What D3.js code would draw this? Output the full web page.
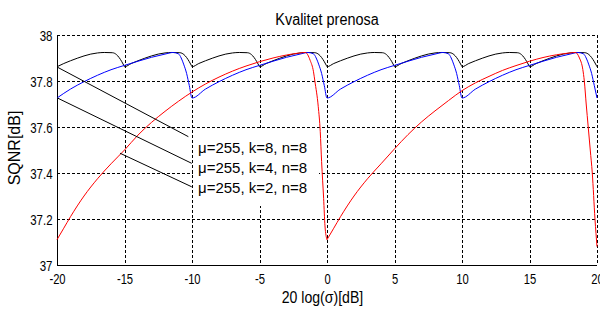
<!DOCTYPE html>
<html><head><meta charset="utf-8">
<script src="https://cdn.jsdelivr.net/npm/d3@7"></script>
<style>body{margin:0;background:#fff}svg{display:block}text{font-family:"Liberation Sans",Arial,sans-serif;fill:#000}</style>
</head><body><svg id="c" width="600" height="309"></svg>
<script>
const xTicks = [-20, -15, -10, -5, 0, 5, 10, 15, 20];
const xTickLabels = ["-20", "-15", "-10", "-5", "0", "5", "10", "15", "20"];
const yTicks = [37, 37.2, 37.4, 37.6, 37.8, 38];
const yTickLabels = ["37", "37.2", "37.4", "37.6", "37.8", "38"];
const titleText = "Kvalitet prenosa";
const xLabel = "20 log(σ)[dB]";
const yLabel = "SQNR[dB]";
const legendLabels = ["μ=255, k=8, n=8", "μ=255, k=4, n=8", "μ=255, k=2, n=8"];

// k=8 (black)
const seriesK8 = [
 [-20,37.862],[-19.5,37.876],[-19,37.888],[-18.5,37.899],[-18,37.909],[-17.5,37.917],[-17,37.922],[-16.5,37.924],[-15.9,37.923],[-15.6,37.915],[-15.4,37.902],[-15.2,37.884],[-15.05,37.868],
 [-15,37.862],[-14.5,37.876],[-14,37.888],[-13.5,37.899],[-13,37.909],[-12.5,37.917],[-12,37.922],[-11.5,37.924],[-10.9,37.923],[-10.6,37.915],[-10.4,37.902],[-10.2,37.884],[-10.05,37.868],
 [-10,37.862],[-9.5,37.876],[-9,37.888],[-8.5,37.899],[-8,37.909],[-7.5,37.917],[-7,37.922],[-6.5,37.924],[-5.9,37.923],[-5.6,37.915],[-5.4,37.902],[-5.2,37.884],[-5.05,37.868],
 [-5,37.862],[-4.5,37.876],[-4,37.888],[-3.5,37.899],[-3,37.909],[-2.5,37.917],[-2,37.922],[-1.5,37.924],[-0.9,37.923],[-0.6,37.915],[-0.4,37.902],[-0.2,37.884],[-0.05,37.868],
 [0,37.862],[0.5,37.876],[1,37.888],[1.5,37.899],[2,37.909],[2.5,37.917],[3,37.922],[3.5,37.924],[4.1,37.923],[4.4,37.915],[4.6,37.902],[4.8,37.884],[4.95,37.868],
 [5,37.862],[5.5,37.876],[6,37.888],[6.5,37.899],[7,37.909],[7.5,37.917],[8,37.922],[8.5,37.924],[9.1,37.923],[9.4,37.915],[9.6,37.902],[9.8,37.884],[9.95,37.868],
 [10,37.862],[10.5,37.876],[11,37.888],[11.5,37.899],[12,37.909],[12.5,37.917],[13,37.922],[13.5,37.924],[14.1,37.923],[14.4,37.915],[14.6,37.902],[14.8,37.884],[14.95,37.868],
 [15,37.862],[15.5,37.876],[16,37.888],[16.5,37.899],[17,37.909],[17.5,37.917],[18,37.922],[18.5,37.924],[19.1,37.923],[19.4,37.915],[19.6,37.902],[19.8,37.884],[19.95,37.868],[20,37.862]
];
// k=4 (blue)
const seriesK4 = [
 [-20,37.726],[-19,37.765],[-18,37.797],[-17,37.825],[-16,37.849],[-15,37.868],[-14,37.886],[-13,37.903],[-12,37.917],[-11.4,37.924],[-11,37.918],[-10.8,37.9],[-10.6,37.87],[-10.4,37.833],[-10.2,37.78],
 [-10,37.726],[-9,37.765],[-8,37.797],[-7,37.825],[-6,37.849],[-5,37.868],[-4,37.886],[-3,37.903],[-2,37.917],[-1.4,37.924],[-1,37.918],[-0.8,37.9],[-0.6,37.87],[-0.4,37.833],[-0.2,37.78],
 [0,37.726],[1,37.765],[2,37.797],[3,37.825],[4,37.849],[5,37.868],[6,37.886],[7,37.903],[8,37.917],[8.6,37.924],[9,37.918],[9.2,37.9],[9.4,37.87],[9.6,37.833],[9.8,37.78],
 [10,37.726],[11,37.765],[12,37.797],[13,37.825],[14,37.849],[15,37.868],[16,37.886],[17,37.903],[18,37.917],[18.6,37.924],[19,37.918],[19.2,37.9],[19.4,37.87],[19.6,37.833],[19.8,37.78],[20,37.726]
];
// k=2 (red)
const seriesK2a = [
 [-20,37.11],[-19.5,37.16],[-19,37.21],[-18,37.30],[-17,37.375],[-16,37.44],[-15,37.50],[-14,37.565],[-13,37.62],[-12,37.668],[-11,37.712],[-10,37.752],[-9,37.787],[-8,37.817],[-7,37.843],[-6,37.865],[-5,37.884],[-4,37.9],[-3,37.913],[-2,37.922],[-1.6,37.924],[-1.25,37.89],[-1.0,37.84],[-0.9,37.80],[-0.65,37.69],[-0.5,37.58],[-0.4,37.45],[-0.25,37.29],[-0.15,37.17],[0,37.11]
];
const seriesK2b = [
 [0,37.11],[0.5,37.16],[1,37.21],[2,37.30],[3,37.375],[4,37.44],[5,37.505],[6,37.567],[7,37.622],[8,37.67],[9,37.715],[10,37.758],[11,37.792],[12,37.82],[13,37.846],[14,37.867],[15,37.886],[16,37.902],[17,37.914],[18,37.922],[18.4,37.924],[18.7,37.9],[18.95,37.85],[19.06,37.8],[19.2,37.7],[19.35,37.6],[19.5,37.5],[19.65,37.4],[19.85,37.2],[20,37.08]
];
// connector lines (from curve to legend entry)
const connectors = [
 [[-20,37.861],[-10.27,37.558]],
 [[-20,37.727],[-10.02,37.442]],
 [[-15.33,37.486],[-10.02,37.34]]
];

const svg = d3.select("#c");
const M = {l:57, r:597, t:35, b:265};
const x = d3.scaleLinear().domain([-20,20]).range([M.l, M.r]);
const y = d3.scaleLinear().domain([37,38]).range([M.b, M.t]);

function squeeze(sel, f){ sel.each(function(){ const w=this.getComputedTextLength(); this.setAttribute("textLength", (w*f).toFixed(1)); this.setAttribute("lengthAdjust","spacingAndGlyphs"); }); }

// grid
const g = svg.append("g").attr("shape-rendering","crispEdges");
g.selectAll("line.vx").data(xTicks.filter(d=>d!==-20)).join("line")
 .attr("x1",d=>Math.round(x(d))+0.5).attr("x2",d=>Math.round(x(d))+0.5).attr("y1",M.t).attr("y2",M.b)
 .attr("stroke","#000").attr("stroke-dasharray","3,2");
g.selectAll("line.hy").data(yTicks.filter(d=>d!==37)).join("line")
 .attr("y1",d=>Math.round(y(d))+0.5).attr("y2",d=>Math.round(y(d))+0.5).attr("x1",M.l).attr("x2",M.r)
 .attr("stroke","#000").attr("stroke-dasharray","3,2");

// legend background
svg.append("rect").attr("x",193).attr("y",129).attr("width",126).attr("height",77).attr("fill","#fff");

// axes
const xAxis = svg.append("g").attr("transform",`translate(0,${M.b+0.5})`).call(d3.axisBottom(x).tickValues(xTicks).tickSize(0).tickPadding(0).tickFormat((d,i)=>xTickLabels[i]));
const yAxis = svg.append("g").attr("transform",`translate(${M.l+0.5},0)`).call(d3.axisLeft(y).tickValues(yTicks).tickSize(0).tickFormat((d,i)=>yTickLabels[i]));
[xAxis,yAxis].forEach(a=>{a.select(".domain").attr("stroke","#000").attr("shape-rendering","crispEdges"); a.selectAll("text").attr("font-family",null).attr("font-size",14);});
xAxis.selectAll("text").attr("dy",null).attr("y",18);
yAxis.selectAll("text").attr("dy","0.36em").attr("x",-5);
squeeze(xAxis.selectAll("text"),0.8);
squeeze(yAxis.selectAll("text"),0.82);
xAxis.select(".domain").attr("d",`M${M.l},0H${M.r}`);
yAxis.select(".domain").attr("d",`M0,${M.b}V${M.t}`);

// curves
const line = d3.line().x(d=>x(d[0])).y(d=>y(d[1])).curve(d3.curveMonotoneX);
const plot = [[seriesK8,"#000"],[seriesK4,"#0000ff"],[seriesK2a,"#ff0000"],[seriesK2b,"#ff0000"]];
svg.selectAll("path.s").data(plot).join("path").attr("class","s")
 .attr("d",d=>line(d[0])).attr("fill","none").attr("stroke",d=>d[1]).attr("stroke-width",1);

// connectors
svg.selectAll("line.cn").data(connectors).join("line")
 .attr("x1",d=>x(d[0][0])).attr("y1",d=>y(d[0][1])).attr("x2",d=>x(d[1][0])).attr("y2",d=>y(d[1][1]))
 .attr("stroke","#000").attr("stroke-width",1);

// legend text
svg.selectAll("text.lg").data(legendLabels).join("text").attr("class","lg")
 .attr("x",198).attr("y",(d,i)=>153+i*20).attr("font-size",15).text(d=>d);

// title & labels
const tt = svg.append("text").attr("x",327).attr("y",25).attr("text-anchor","middle").attr("font-size",16).text(titleText);
squeeze(tt,0.9);
const xl = svg.append("text").attr("x",322.5).attr("y",303).attr("text-anchor","middle").attr("font-size",16).text(xLabel);
squeeze(xl,0.88);
svg.append("text").attr("transform","translate(20,148) rotate(-90)").attr("text-anchor","middle").attr("font-size",16).text(yLabel);
</script></body></html>
